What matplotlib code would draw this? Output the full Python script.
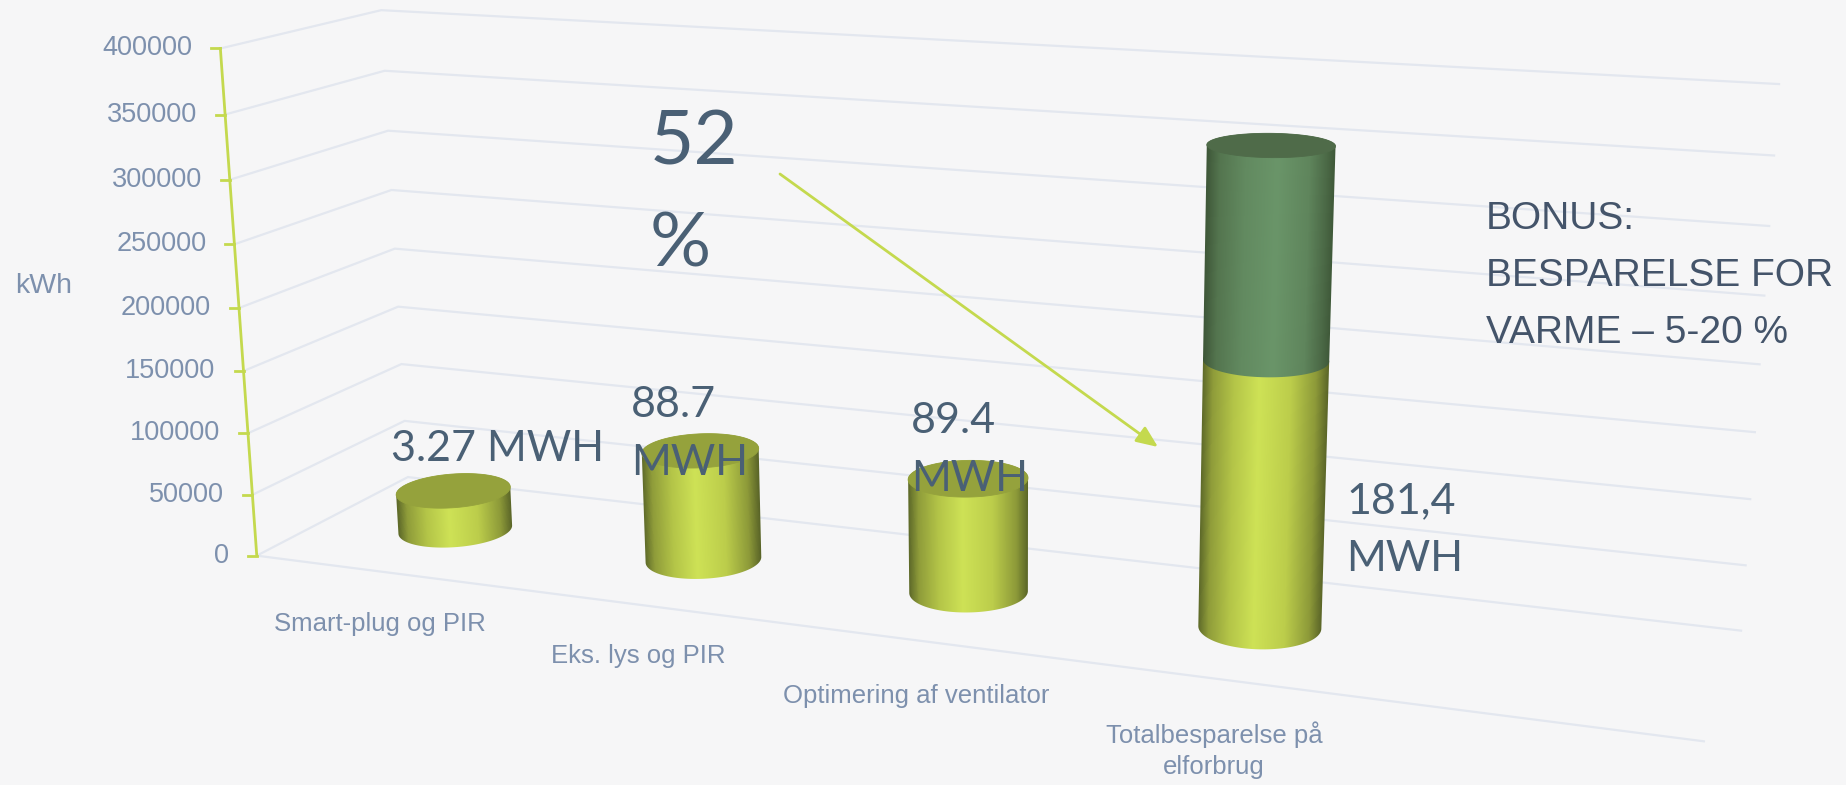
import matplotlib

matplotlib.use("Agg")
import matplotlib.pyplot as plt
from matplotlib.colors import LinearSegmentedColormap
from matplotlib.patches import Polygon
import numpy as np

# Data
categories = ["Smart-plug og PIR", "Eks. lys og PIR", "Optimering af ventilator", "Totalbesparelse på\nelforbrug"]
savings_kwh = [32700, 88700, 89400, 201000]
bonus_kwh = [0, 0, 0, 155000]
value_ticks = [0, 50000, 100000, 150000, 200000, 250000, 300000, 350000, 400000]
value_labels = ["3.27 MWH", "88.7\nMWH", "89.4\nMWH", "181,4\nMWH"]
value_max = 400000

# Layout of the 3d box, screen position of the corners (u, v, w) -> pixel
box_world = np.array([[0, 0, 0], [0, 0, 1], [0, 1, 0], [0, 1, 1], [1, 1, 0], [1, 1, 1], [1, 0, 0]], float)
box_screen = np.array([[257, 555.7], [220, 48.7], [407.6, 477], [381.6, 10], [1741, 631], [1779, 84], [1704, 741]], float)
bar_u = [0.101, 0.30, 0.499, 0.703]
bar_v = 0.5
radius_u = 0.04
radius_v = 0.21

GRID = "#e3e7ef"
LIME = "#c4d94e"
AXIS_TEXT = "#7d90ad"
DARK_TEXT = "#4a6075"
HEAD_TEXT = "#44546a"


def fit_camera(world, screen):
    rows = []
    rhs = []
    for (x, y, z), (sx, sy) in zip(world, screen):
        rows.append([x, y, z, 1, 0, 0, 0, 0, -sx * x, -sx * y, -sx * z])
        rows.append([0, 0, 0, 0, x, y, z, 1, -sy * x, -sy * y, -sy * z])
        rhs += [sx, sy]
    sol = np.linalg.lstsq(np.array(rows), np.array(rhs), rcond=None)[0]
    return np.append(sol, 1).reshape(3, 4)


camera = fit_camera(box_world, box_screen)


def project(u, v, w):
    u, v, w = np.broadcast_arrays(u, v, w)
    pts = np.stack([u, v, w, np.ones_like(u, dtype=float)], axis=-1) @ camera.T
    return pts[..., 0] / pts[..., 2], pts[..., 1] / pts[..., 2]


def convex_hull(points):
    points = sorted(set(map(tuple, points)))

    def half(pts):
        out = []
        for p in pts:
            while len(out) > 1 and (out[-1][0] - out[-2][0]) * (p[1] - out[-2][1]) - (out[-1][1] - out[-2][1]) * (p[0] - out[-2][0]) <= 0:
                out.pop()
            out.append(p)
        return out[:-1]

    return half(points) + half(points[::-1])


yellow = LinearSegmentedColormap.from_list("yellow", [(0, "#5f6b2a"), (0.08, "#8f9c3a"), (0.25, "#b4c548"), (0.45, "#cee256"),
                                                      (0.7, "#bccd4b"), (0.9, "#8d9a39"), (1, "#5a6528")])
green = LinearSegmentedColormap.from_list("green", [(0, "#3f5839"), (0.1, "#54754f"), (0.3, "#628a60"), (0.55, "#6a9569"),
                                                    (0.8, "#5f855c"), (0.93, "#4c6a47"), (1, "#3f5839")])


def draw_segment(ax, u0, w0, w1, cmap, z):
    theta = np.linspace(0, 2 * np.pi, 361)
    cu = u0 + radius_u * np.cos(theta)
    cv = bar_v + radius_v * np.sin(theta)
    bx, by = project(cu, cv, w0)
    tx, ty = project(cu, cv, w1)
    hull = convex_hull(np.column_stack([np.r_[bx, tx], np.r_[by, ty]]))

    # shading runs across the body between its two silhouette edges
    xmin, xmax = min(bx.min(), tx.min()), max(bx.max(), tx.max())
    ymin, ymax = min(by.min(), ty.min()), max(by.max(), ty.max())
    X, Y = np.meshgrid(np.arange(xmin - 2, xmax + 3), np.arange(ymin - 2, ymax + 3))
    a = (Y - by.mean()) / (ty.mean() - by.mean())
    left = bx.min() + a * (tx.min() - bx.min())
    right = bx.max() + a * (tx.max() - bx.max())
    shade = np.clip((X - left) / (right - left), 0, 1)
    im = ax.imshow(shade, cmap=cmap, vmin=0, vmax=1, aspect="auto", interpolation="bilinear", zorder=z,
                   extent=(xmin - 2.5, xmax + 2.5, ymax + 2.5, ymin - 2.5))
    im.set_clip_path(Polygon(hull, closed=True, transform=ax.transData))


fig = plt.figure(figsize=(18.46, 7.85), dpi=100, facecolor="#f6f6f7")
ax = fig.add_axes([0, 0, 1, 1])
ax.set_xlim(0, 1846)
ax.set_ylim(785, 0)
ax.axis("off")

# Grid on the walls
for tick in value_ticks:
    w = tick / value_max
    x, y = project([0, 0, 1], [0, 1, 1], w)
    ax.plot(x, y, color=GRID, lw=1.6, zorder=1)
x, y = project([0, 1], 0, 0)
ax.plot(x, y, color=GRID, lw=1.6, zorder=1)

# Value axis
x, y = project(0, 0, [0, 1])
ax.plot(x, y, color=LIME, lw=2, zorder=2)
for tick in value_ticks:
    x, y = project(0, 0, tick / value_max)
    ax.plot([x - 9, x], [y, y], color=LIME, lw=2, zorder=2)
    ax.text(x - 28, y, str(tick), ha="right", va="center", color=AXIS_TEXT, family="Liberation Sans", fontsize=19.5, zorder=3)
ax.text(43.5, 286, "kWh", ha="center", va="center", color=AXIS_TEXT, family="Liberation Sans", fontsize=20.5)

# Cylinders
for i in range(len(categories)):
    w1 = savings_kwh[i] / value_max
    draw_segment(ax, bar_u[i], 0, w1, yellow, 4 + i)
    top = w1
    top_color = "#95a23c"
    if bonus_kwh[i] > 0:
        top = w1 + bonus_kwh[i] / value_max
        draw_segment(ax, bar_u[i], w1, top, green, 4 + i + 0.1)
        top_color = "#4f6b49"
    theta = np.linspace(0, 2 * np.pi, 181)
    x, y = project(bar_u[i] + radius_u * np.cos(theta), bar_v + radius_v * np.sin(theta), top)
    ax.fill(x, y, color=top_color, lw=0.6, zorder=4 + i + 0.2)

# Category labels
label_pos = [(380, 624), (638, 656), (916, 696), (1214, 750)]
for name, (x, y) in zip(categories, label_pos):
    ax.text(x, y, name, ha="center", va="center", color=AXIS_TEXT, family="Liberation Sans", fontsize=18.5, linespacing=1.35, zorder=10)

# Value labels
value_pos = [(391, 449), (631, 434), (911, 450), (1346, 530)]
for name, (x, y) in zip(value_labels, value_pos):
    ax.text(x, y, name, ha="left", va="center", color=DARK_TEXT, family="Lato", fontsize=31, linespacing=1.65, zorder=10)

ax.text(650, 194, "52\n%", ha="left", va="center", color=DARK_TEXT, family="Lato", fontsize=55, linespacing=1.6, zorder=10)
ax.text(1486, 276, "BONUS:\nBESPARELSE FOR\nVARME – 5-20 %", ha="left", va="center", color=HEAD_TEXT,
        family="Liberation Sans", fontsize=28, linespacing=1.75, zorder=10)

# Arrow to total
ax.annotate("", xy=(1158, 447), xytext=(780, 174), zorder=3,
            arrowprops=dict(arrowstyle="-|>,head_length=1.3,head_width=0.55", color=LIME, lw=2, shrinkA=0, shrinkB=0))

fig.savefig("out.png", dpi=100, facecolor=fig.get_facecolor())
